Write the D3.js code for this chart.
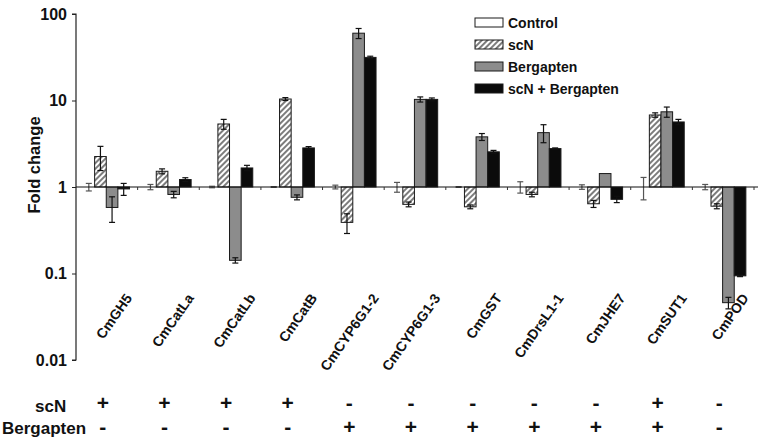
<!DOCTYPE html>
<html>
<head>
<meta charset="utf-8">
<script src="https://cdn.jsdelivr.net/npm/d3@7/dist/d3.min.js"></script>
<style>
  html, body { margin: 0; padding: 0; background: #fff; }
  svg { display: block; font-family: Arial, "Liberation Sans", sans-serif; }
</style>
</head>
<body>
<svg id="chart" width="759" height="442"></svg>
<script>
const categories = ["CmGH5","CmCatLa","CmCatLb","CmCatB","CmCYP6G1-2","CmCYP6G1-3","CmGST","CmDrsL1-1","CmJHE7","CmSUT1","CmPOD"];
const seriesNames = ["Control","scN","Bergapten","scN + Bergapten"];
const controlVals = [1,1,1,1,1,1,1,1,1,1,1];
const controlErr  = [0.1,0.07,0.02,0.01,0.05,0.13,0.01,0.15,0.06,0.29,0.07];
const scNVals     = [2.25,1.52,5.35,10.4,0.39,0.63,0.59,0.82,0.64,6.8,0.60];
const scNErr      = [0.7,0.1,0.7,0.4,0.1,0.04,0.03,0.05,0.06,0.4,0.04];
const bergVals    = [0.58,0.82,0.142,0.76,60,10.3,3.8,4.25,1.43,7.4,0.046];
const bergErr     = [0.19,0.07,0.01,0.05,8,0.7,0.35,1.0,0,1.0,0.007];
const comboVals   = [0.95,1.22,1.66,2.83,31.5,10.3,2.55,2.78,0.72,5.65,0.094];
const comboErr    = [0.15,0.06,0.12,0.1,1,0.4,0.1,0.05,0.06,0.4,0.002];
const yTicks      = [100,10,1,0.1,0.01];
const yTickLabels = ["100","10","1","0.1","0.01"];
const scNRow      = ["+","+","+","+","-","-","-","-","-","+","-"];
const bergRow     = ["-","-","-","-","+","+","+","+","+","+","-"];

const svg = d3.select("#chart");
const defs = svg.append("defs");
const pat = defs.append("pattern").attr("id","hatch").attr("patternUnits","userSpaceOnUse")
  .attr("width",4).attr("height",4).attr("patternTransform","rotate(45)");
pat.append("rect").attr("width",4).attr("height",4).attr("fill","#fff");
pat.append("line").attr("x1",1).attr("y1",0).attr("x2",1).attr("y2",4).attr("stroke","#111").attr("stroke-width",1.1);

const fills = ["#ffffff","url(#hatch)","#8c8c8c","#0b0b0b"];
const errColors = ["#555","#111","#111","#111"];
const allVals = [controlVals, scNVals, bergVals, comboVals];
const allErr = [controlErr, scNErr, bergErr, comboErr];

const x0 = d3.scaleBand().domain(categories).range([76, 754]).padding(0);
const x1 = d3.scaleBand().domain(seriesNames).range([7, 53.5]).padding(0);
const y = d3.scaleLog().domain([0.01, 100]).range([360, 14]);

// y axis
const yAxis = d3.axisLeft(y).tickValues(yTicks).tickFormat((d,i)=>yTickLabels[i]).tickSize(4).tickPadding(5);
const ga = svg.append("g").attr("transform","translate(76,0)").call(yAxis);
ga.select(".domain").attr("stroke","#222").attr("stroke-width",1.2).attr("d","M-4,14H0V360H-4");
ga.selectAll(".tick line").attr("stroke","#222");
ga.selectAll(".tick text").attr("font-size",16).attr("font-weight","bold").attr("fill","#111")
  .attr("font-family","Arial, 'Liberation Sans', sans-serif");

svg.append("text").attr("transform","translate(40,165) rotate(-90)").attr("text-anchor","middle")
  .attr("font-size",16.5).attr("font-weight","bold").attr("fill","#111").text("Fold change");

// bars
const groups = svg.append("g").selectAll("g").data(categories).join("g")
  .attr("transform", d => `translate(${x0(d)},0)`);

seriesNames.forEach((s, si) => {
  groups.append("rect")
    .attr("x", x1(s))
    .attr("width", x1.bandwidth())
    .attr("y", (d,i) => Math.min(y(allVals[si][i]), y(1)))
    .attr("height", (d,i) => Math.abs(y(allVals[si][i]) - y(1)))
    .attr("fill", fills[si])
    .attr("stroke", "#1a1a1a")
    .attr("stroke-width", 1);
});

// baseline at 1
svg.append("line").attr("x1",76).attr("x2",758).attr("y1",y(1)).attr("y2",y(1)).attr("stroke","#111").attr("stroke-width",1.2);
// category ticks on baseline
svg.append("g").selectAll("line").data(categories.slice(1).concat(["_end"])).join("line")
  .attr("x1",(d,i)=>x0(categories[0]) + (i+1)*x0.step())
  .attr("x2",(d,i)=>x0(categories[0]) + (i+1)*x0.step())
  .attr("y1",y(1)).attr("y2",y(1)+3).attr("stroke","#333");

// error bars
seriesNames.forEach((s, si) => {
  const eg = groups.append("g").attr("stroke", errColors[si]).attr("stroke-width",1.2);
  const cx = x1(s) + x1.bandwidth()/2;
  eg.each(function(d,i){
    const v = allVals[si][i], e = allErr[si][i];
    if (e <= 0) return;
    const yt = y(v+e), yb = y(Math.max(v-e, 0.0011));
    const g = d3.select(this);
    g.append("line").attr("x1",cx).attr("x2",cx).attr("y1",yt).attr("y2",yb);
    g.append("line").attr("x1",cx-3).attr("x2",cx+3).attr("y1",yt).attr("y2",yt);
    g.append("line").attr("x1",cx-3).attr("x2",cx+3).attr("y1",yb).attr("y2",yb);
  });
});

// category labels
groups.append("text")
  .attr("transform", d => `translate(${x0.bandwidth()/2 + 26},298) rotate(-55)`)
  .attr("text-anchor","end")
  .attr("font-size",14).attr("font-weight","bold").attr("fill","#111")
  .text(d => d);

// treatment rows
svg.append("text").attr("x",35).attr("y",412).attr("font-size",17).attr("font-weight","bold").attr("fill","#111").text("scN");
svg.append("text").attr("x",2).attr("y",434).attr("font-size",17).attr("font-weight","bold").attr("fill","#111").text("Bergapten");
groups.append("text").attr("x", x0.bandwidth()/2 - 4).attr("y",410).attr("text-anchor","middle")
  .attr("font-size",21).attr("font-weight","bold").attr("fill","#111").text((d,i)=>scNRow[i]);
groups.append("text").attr("x", x0.bandwidth()/2 - 4).attr("y",434).attr("text-anchor","middle")
  .attr("font-size",21).attr("font-weight","bold").attr("fill","#111").text((d,i)=>bergRow[i]);

// legend
const lg = svg.append("g").selectAll("g").data(seriesNames).join("g")
  .attr("transform",(d,i)=>`translate(475,${18 + i*22})`);
lg.append("rect").attr("width",28).attr("height",9).attr("fill",(d,i)=>fills[i]).attr("stroke","#1a1a1a").attr("stroke-width",1);
lg.append("text").attr("x",33).attr("y",9.5).attr("font-size",14).attr("font-weight","bold").attr("fill","#111").text(d=>d);
</script>
</body>
</html>
